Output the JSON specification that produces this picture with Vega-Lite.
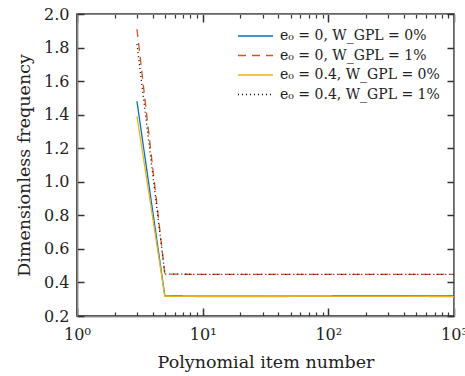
{
  "$schema": "https://vega.github.io/schema/vega-lite/v6.json",
  "width": 377,
  "height": 302,
  "autosize": "none",
  "padding": {"left": 77, "top": 14, "right": 11, "bottom": 60},
  "config": {
    "font": "DejaVu Serif",
    "view": {"stroke": "#333333", "strokeWidth": 1.5},
    "axis": {"labelFont": "DejaVu Serif", "titleFont": "DejaVu Serif", "labelFontSize": 16, "titleFontSize": 17.5, "titleFontWeight": "normal", "labelColor": "#222", "titleColor": "#222", "grid": false},
    "legend": {"labelFont": "DejaVu Serif", "labelFontSize": 14, "labelColor": "#222"}
  },
  "data": {"values": [
    {"n": 3, "f": 1.48, "s": "e₀ = 0, W_GPL = 0%"},
    {"n": 5, "f": 0.32, "s": "e₀ = 0, W_GPL = 0%"},
    {"n": 10, "f": 0.318, "s": "e₀ = 0, W_GPL = 0%"},
    {"n": 30, "f": 0.318, "s": "e₀ = 0, W_GPL = 0%"},
    {"n": 100, "f": 0.319, "s": "e₀ = 0, W_GPL = 0%"},
    {"n": 300, "f": 0.32, "s": "e₀ = 0, W_GPL = 0%"},
    {"n": 1000, "f": 0.32, "s": "e₀ = 0, W_GPL = 0%"},
    {"n": 3, "f": 1.91, "s": "e₀ = 0, W_GPL = 1%"},
    {"n": 5, "f": 0.45, "s": "e₀ = 0, W_GPL = 1%"},
    {"n": 10, "f": 0.448, "s": "e₀ = 0, W_GPL = 1%"},
    {"n": 30, "f": 0.448, "s": "e₀ = 0, W_GPL = 1%"},
    {"n": 100, "f": 0.448, "s": "e₀ = 0, W_GPL = 1%"},
    {"n": 300, "f": 0.448, "s": "e₀ = 0, W_GPL = 1%"},
    {"n": 1000, "f": 0.448, "s": "e₀ = 0, W_GPL = 1%"},
    {"n": 3, "f": 1.39, "s": "e₀ = 0.4, W_GPL = 0%"},
    {"n": 5, "f": 0.318, "s": "e₀ = 0.4, W_GPL = 0%"},
    {"n": 10, "f": 0.316, "s": "e₀ = 0.4, W_GPL = 0%"},
    {"n": 30, "f": 0.316, "s": "e₀ = 0.4, W_GPL = 0%"},
    {"n": 100, "f": 0.317, "s": "e₀ = 0.4, W_GPL = 0%"},
    {"n": 300, "f": 0.317, "s": "e₀ = 0.4, W_GPL = 0%"},
    {"n": 1000, "f": 0.316, "s": "e₀ = 0.4, W_GPL = 0%"},
    {"n": 3, "f": 1.82, "s": "e₀ = 0.4, W_GPL = 1%"},
    {"n": 5, "f": 0.45, "s": "e₀ = 0.4, W_GPL = 1%"},
    {"n": 10, "f": 0.448, "s": "e₀ = 0.4, W_GPL = 1%"},
    {"n": 30, "f": 0.448, "s": "e₀ = 0.4, W_GPL = 1%"},
    {"n": 100, "f": 0.448, "s": "e₀ = 0.4, W_GPL = 1%"},
    {"n": 300, "f": 0.448, "s": "e₀ = 0.4, W_GPL = 1%"},
    {"n": 1000, "f": 0.448, "s": "e₀ = 0.4, W_GPL = 1%"}
  ]},
  "resolve": {"axis": {"x": "independent", "y": "independent"}},
  "layer": [
    {
      "mark": {"type": "line", "strokeWidth": 1.3, "clip": true},
      "encoding": {
        "x": {"field": "n", "type": "quantitative", "scale": {"type": "log", "domain": [1, 1000]},
          "axis": {"orient": "bottom", "title": "Polynomial item number", "values": [1, 10, 100, 1000],
            "labelExpr": "datum.value == 1 ? '10⁰' : datum.value == 10 ? '10¹' : datum.value == 100 ? '10²' : '10³'",
            "tickSize": 5, "tickColor": "transparent", "domainColor": "#333333", "domainWidth": 1.5, "labelPadding": 5, "labelFlush": false, "labelOverlap": false, "titlePadding": 11}},
        "y": {"field": "f", "type": "quantitative", "scale": {"domain": [0.2, 2.0], "nice": false, "zero": false},
          "axis": {"orient": "left", "title": "Dimensionless frequency", "values": [0.2,0.4,0.6,0.8,1.0,1.2,1.4,1.6,1.8,2.0], "format": ".1f", "tickSize": 7, "tickColor": "transparent", "domainColor": "#333333", "domainWidth": 1.5, "labelPadding": 1, "titlePadding": 10}},
        "color": {"field": "s", "type": "nominal", "sort": null,
          "scale": {"domain": ["e₀ = 0, W_GPL = 0%", "e₀ = 0, W_GPL = 1%", "e₀ = 0.4, W_GPL = 0%", "e₀ = 0.4, W_GPL = 1%"], "range": ["#0072BD", "#D95319", "#EDB120", "#111111"]},
          "legend": {"title": null, "orient": "top-right", "offset": 14, "symbolType": "stroke", "symbolSize": 1225, "symbolStrokeWidth": 1.3, "clipHeight": 16, "rowPadding": 3.5, "labelOffset": 6}},
        "strokeDash": {"field": "s", "type": "nominal", "sort": null,
          "scale": {"domain": ["e₀ = 0, W_GPL = 0%", "e₀ = 0, W_GPL = 1%", "e₀ = 0.4, W_GPL = 0%", "e₀ = 0.4, W_GPL = 1%"], "range": [[1,0], [8,6], [1,0], [1,3]]},
          "legend": {"title": null, "orient": "top-right", "offset": 14, "symbolType": "stroke", "symbolSize": 1225, "symbolStrokeWidth": 1.3, "clipHeight": 16, "rowPadding": 3.5, "labelOffset": 6}}
      }
    },
    {
      "mark": {"type": "line", "opacity": 0},
      "encoding": {
        "x": {"field": "n", "type": "quantitative", "scale": {"type": "log", "domain": [1, 1000]},
          "axis": {"orient": "top", "offset": -302, "titleOpacity": 0, "labels": false, "values": [1, 10, 100, 1000], "tickColor": "#333333", "tickWidth": 1.5, "tickSize": 8}},
        "y": {"field": "f", "type": "quantitative", "scale": {"domain": [0.2, 2.0], "nice": false, "zero": false},
          "axis": {"orient": "right", "offset": -377, "titleOpacity": 0, "labels": false, "values": [0.2,0.4,0.6,0.8,1.0,1.2,1.4,1.6,1.8,2.0], "tickColor": "#333333", "tickWidth": 1.5, "tickSize": 7}}
      }
    },
    {
      "mark": {"type": "line", "opacity": 0},
      "encoding": {
        "x": {"field": "n", "type": "quantitative", "scale": {"type": "log", "domain": [1, 1000]},
          "axis": {"orient": "bottom", "offset": -302, "titleOpacity": 0, "labels": false, "values": [1, 10, 100, 1000], "tickColor": "#333333", "tickWidth": 1.5, "tickSize": 8}},
        "y": {"field": "f", "type": "quantitative", "scale": {"domain": [0.2, 2.0], "nice": false, "zero": false},
          "axis": {"orient": "left", "offset": -377, "titleOpacity": 0, "labels": false, "values": [0.2,0.4,0.6,0.8,1.0,1.2,1.4,1.6,1.8,2.0], "tickColor": "#333333", "tickWidth": 1.5, "tickSize": 7}}
      }
    },
    {
      "mark": {"type": "line", "opacity": 0},
      "encoding": {
        "x": {"field": "n", "type": "quantitative", "scale": {"type": "log", "domain": [1, 1000]},
          "axis": {"orient": "top", "offset": -302, "titleOpacity": 0, "labels": false, "values": [2,3,4,5,6,7,8,9,20,30,40,50,60,70,80,90,200,300,400,500,600,700,800,900], "tickColor": "#333333", "tickWidth": 1.2, "tickSize": 4}},
        "y": {"field": "f", "type": "quantitative", "scale": {"domain": [0.2, 2.0], "nice": false, "zero": false}, "axis": null}
      }
    },
    {
      "mark": {"type": "line", "opacity": 0},
      "encoding": {
        "x": {"field": "n", "type": "quantitative", "scale": {"type": "log", "domain": [1, 1000]},
          "axis": {"orient": "bottom", "offset": -302, "titleOpacity": 0, "labels": false, "values": [2,3,4,5,6,7,8,9,20,30,40,50,60,70,80,90,200,300,400,500,600,700,800,900], "tickColor": "#333333", "tickWidth": 1.2, "tickSize": 4}},
        "y": {"field": "f", "type": "quantitative", "scale": {"domain": [0.2, 2.0], "nice": false, "zero": false}, "axis": null}
      }
    }
  ]
}
